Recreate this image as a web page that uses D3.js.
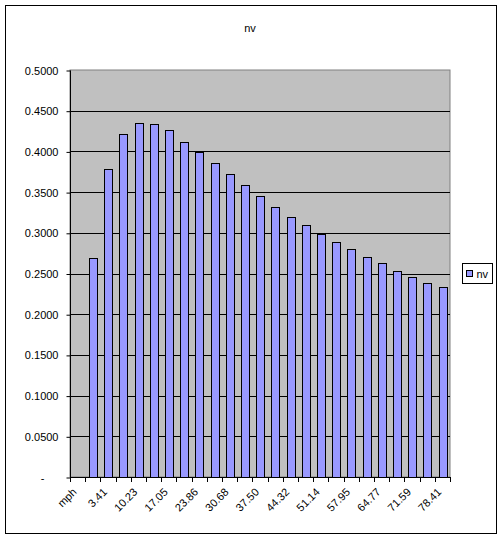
<!DOCTYPE html>
<html>
<head>
<meta charset="utf-8">
<script src="https://cdn.jsdelivr.net/npm/d3@7"></script>
<style>
  body { margin: 0; background: #fff; }
  svg { display: block; font-family: "Liberation Sans", Arial, sans-serif; }
</style>
</head>
<body>
<script>
// categories (every other one is labelled on the axis)
const categories = ["mph", "0.00", "3.41", "6.82", "10.23", "13.64", "17.05", "20.46", "23.86",
  "27.27", "30.68", "34.09", "37.50", "40.91", "44.32", "47.73", "51.14", "54.55", "57.95",
  "61.36", "64.77", "68.18", "71.59", "75.00", "78.41"];
const nv = [null, 0.2687, 0.378, 0.4214, 0.4345, 0.4337, 0.426, 0.412, 0.3996, 0.3857, 0.372,
  0.3583, 0.3446, 0.3323, 0.320, 0.309, 0.2984, 0.2886, 0.2795, 0.2701, 0.2623, 0.2529,
  0.2463, 0.2389, 0.2333];
const yTicks = [0, 0.05, 0.1, 0.15, 0.2, 0.25, 0.3, 0.35, 0.4, 0.45, 0.5];
const seriesName = "nv";

const W = 504, H = 540;
const plot = { left: 70, top: 70, right: 450, bottom: 477 };

const svg = d3.select("body").append("svg")
  .attr("width", W)
  .attr("height", H);

// chart border
svg.append("rect")
  .attr("x", 5.5).attr("y", 5.5)
  .attr("width", 491).attr("height", 528)
  .attr("fill", "#fff")
  .attr("stroke", "#000")
  .attr("stroke-width", 1);

const x = d3.scaleBand()
  .domain(categories)
  .range([plot.left, plot.right])
  .paddingInner(0.5)
  .paddingOuter(0.25);

const xb = d3.scaleBand()
  .domain(categories)
  .range([plot.left, plot.right]);

const y = d3.scaleLinear()
  .domain([0, 0.5])
  .range([plot.bottom, plot.top]);

// plot area
svg.append("rect")
  .attr("x", plot.left).attr("y", plot.top)
  .attr("width", plot.right - plot.left)
  .attr("height", plot.bottom - plot.top)
  .attr("fill", "#c0c0c0")
  .attr("stroke", "#808080")
  .attr("stroke-width", 1);

// gridlines
svg.append("g")
  .selectAll("line")
  .data(yTicks.filter(d => d > 0 && d < 0.5))
  .join("line")
  .attr("x1", plot.left).attr("x2", plot.right)
  .attr("y1", d => Math.round(y(d)) + 0.5)
  .attr("y2", d => Math.round(y(d)) + 0.5)
  .attr("stroke", "#000");

// bars
svg.append("g")
  .selectAll("rect")
  .data(categories.map((c, i) => ({ c, v: nv[i] })).filter(d => d.v != null))
  .join("rect")
  .attr("x", d => Math.round(x(d.c)) + 0.5)
  .attr("y", d => Math.round(y(d.v)) + 0.5)
  .attr("width", Math.round(x.bandwidth()))
  .attr("height", d => Math.round(y(0)) - Math.round(y(d.v)))
  .attr("fill", "#9999ff")
  .attr("stroke", "#000")
  .attr("stroke-width", 1);

// y axis
const yAxis = d3.axisLeft(y)
  .tickValues(yTicks)
  .tickSize(4)
  .tickPadding(8)
  .tickFormat(d => d === 0 ? "-" : d3.format(".4f")(d));

svg.append("g")
  .attr("transform", `translate(${plot.left + 0.5},0.5)`)
  .call(yAxis)
  .call(g => g.selectAll("text").attr("font-size", 11).attr("fill", "#000").attr("font-family", "Liberation Sans, Arial, sans-serif"))
  .call(g => g.selectAll("text").filter(d => d === 0).attr("dx", -14))
  .call(g => g.selectAll("line,path").attr("stroke", "#000"))
  .call(g => g.select(".domain").attr("d", `M0,${plot.top}V${plot.bottom}`));

// x axis
svg.append("line")
  .attr("x1", plot.left).attr("x2", plot.right)
  .attr("y1", plot.bottom + 0.5).attr("y2", plot.bottom + 0.5)
  .attr("stroke", "#000");

svg.append("g")
  .selectAll("line")
  .data(categories.concat(["end"]))
  .join("line")
  .attr("x1", (d, i) => Math.round(plot.left + i * xb.step()) + 0.5)
  .attr("x2", (d, i) => Math.round(plot.left + i * xb.step()) + 0.5)
  .attr("y1", plot.bottom)
  .attr("y2", plot.bottom + 5)
  .attr("stroke", "#000");

svg.append("g")
  .selectAll("text")
  .data(categories.filter((d, i) => i % 2 === 0))
  .join("text")
  .attr("transform", d => `translate(${xb(d) + xb.bandwidth() / 2 - 3},${plot.bottom + 13}) rotate(-45)`)
  .attr("text-anchor", "end")
  .attr("dy", "0.35em")
  .attr("font-size", 11)
  .text(d => d);

// title
svg.append("text")
  .attr("x", 250).attr("y", 32)
  .attr("text-anchor", "middle")
  .attr("font-size", 11)
  .text(seriesName);

// legend
const lg = svg.append("g").attr("transform", "translate(462.5,263.5)");
lg.append("rect")
  .attr("width", 30).attr("height", 20)
  .attr("fill", "#fff").attr("stroke", "#000");
lg.append("rect")
  .attr("x", 4).attr("y", 7)
  .attr("width", 6).attr("height", 6)
  .attr("fill", "#9999ff").attr("stroke", "#000");
lg.append("text")
  .attr("x", 14).attr("y", 14)
  .attr("font-size", 11)
  .text(seriesName);
</script>
</body>
</html>
